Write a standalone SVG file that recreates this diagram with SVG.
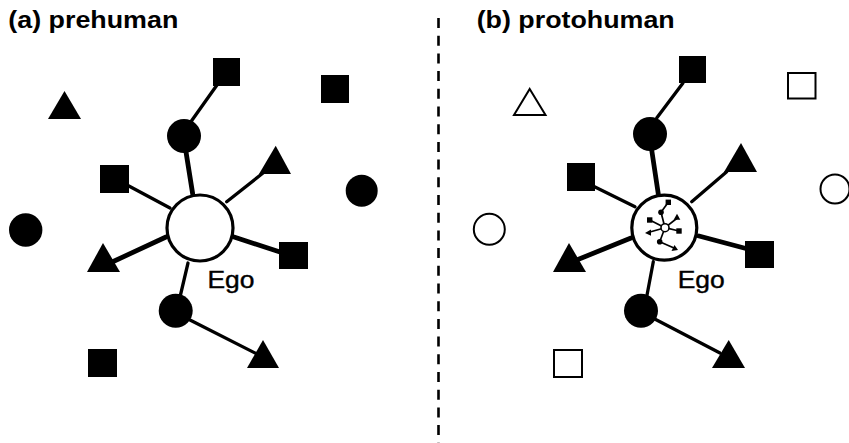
<svg xmlns="http://www.w3.org/2000/svg" width="849" height="443" viewBox="0 0 849 443">
<style>
.title{font-family:"Liberation Sans",Arial,sans-serif;font-weight:bold;font-size:24px;fill:#000}
.lbl{font-family:"Liberation Sans",Arial,sans-serif;font-size:23px;fill:#000;stroke:#000;stroke-width:0.4}
.f{fill:#000}
.o{fill:#fff;stroke:#000;stroke-width:2}
.ego{fill:#fff;stroke:#000;stroke-width:3.2}
.e{stroke:#000;stroke-width:3.3;stroke-linecap:round;fill:none}
.t{stroke-width:4.8}
.m{stroke:#000;stroke-width:1.7;fill:none}
</style>
<rect width="849" height="443" fill="#fff"/>
<text class="title" x="8.3" y="28" textLength="170" lengthAdjust="spacingAndGlyphs">(a) prehuman</text>
<text class="title" x="476.7" y="28" textLength="198" lengthAdjust="spacingAndGlyphs">(b) protohuman</text>
<line x1="438.5" y1="18" x2="438.5" y2="443" stroke="#000" stroke-width="2.6" stroke-dasharray="10 7.7"/>

<g id="connectors">
  <!-- panel a -->
  <line class="e t" x1="192.7" y1="194" x2="185.7" y2="150"/>
  <line class="e" x1="190" y1="123" x2="217" y2="85"/>
  <line class="e" x1="170" y1="208" x2="127" y2="185"/>
  <line class="e" x1="226.7" y1="201.7" x2="263" y2="173"/>
  <line class="e t" x1="166" y1="237" x2="110" y2="263"/>
  <line class="e t" x1="234" y1="237" x2="280" y2="252"/>
  <line class="e" x1="188" y1="263" x2="180" y2="297"/>
  <line class="e" x1="190" y1="320" x2="257" y2="354"/>
  <!-- panel b -->
  <line class="e t" x1="658.3" y1="194" x2="651.7" y2="150"/>
  <line class="e" x1="656.7" y1="118" x2="683" y2="83"/>
  <line class="e" x1="635" y1="206.7" x2="593" y2="186"/>
  <line class="e" x1="691.7" y1="201.7" x2="726.7" y2="171.7"/>
  <line class="e t" x1="631" y1="238" x2="576.7" y2="260"/>
  <line class="e t" x1="699" y1="236" x2="745" y2="248.3"/>
  <line class="e" x1="653.3" y1="261.7" x2="646.7" y2="296.7"/>
  <line class="e" x1="653.3" y1="318.3" x2="720" y2="353"/>
</g>

<!-- panel a nodes -->
<g id="a-ego"><circle class="ego" cx="200" cy="228" r="33"/><text class="lbl" x="207.5" y="288" textLength="47" lengthAdjust="spacingAndGlyphs">Ego</text></g>
<g id="a-sq-top"><rect class="f" x="213" y="58" width="27" height="28"/></g>
<g id="a-sq-topright"><rect class="f" x="321" y="75" width="28" height="28"/></g>
<g id="a-tri-topleft"><polygon class="f" points="64.5,91 81,119 48,119"/></g>
<g id="a-circ-top"><circle class="f" cx="184" cy="136" r="17"/></g>
<g id="a-sq-midleft"><rect class="f" x="100" y="165" width="29" height="28"/></g>
<g id="a-tri-upright"><polygon class="f" points="275.7,145.7 291,174 259,174"/></g>
<g id="a-circ-right"><circle class="f" cx="361.7" cy="190.7" r="16"/></g>
<g id="a-circ-left"><circle class="f" cx="25.7" cy="230" r="16.7"/></g>
<g id="a-tri-lowleft"><polygon class="f" points="103,243 120,272 87,272"/></g>
<g id="a-sq-lowright"><rect class="f" x="279" y="242" width="29" height="27"/></g>
<g id="a-circ-low"><circle class="f" cx="175.7" cy="310.7" r="17"/></g>
<g id="a-tri-lowright"><polygon class="f" points="263,340 279,368 247,368"/></g>
<g id="a-sq-bottomleft"><rect class="f" x="88" y="349" width="29" height="28"/></g>

<!-- panel b nodes -->
<g id="b-ego">
  <circle class="ego" cx="664.3" cy="227.7" r="32.5"/>
  <g id="b-mini">
    <line class="m" x1="665" y1="227.7" x2="661" y2="212.3"/>
    <line class="m" x1="661" y1="212.3" x2="668.3" y2="202.3"/>
    <line class="m" x1="665" y1="227.7" x2="649.7" y2="220"/>
    <line class="m" x1="665" y1="227.7" x2="676.7" y2="218.5"/>
    <line class="m" x1="665" y1="227.7" x2="649" y2="232.3"/>
    <line class="m" x1="665" y1="227.7" x2="679" y2="231"/>
    <line class="m" x1="665" y1="227.7" x2="659.7" y2="241.7"/>
    <line class="m" x1="659.7" y1="241.7" x2="674" y2="248"/>
    <circle cx="665" cy="227.7" r="4" fill="#fff" stroke="#000" stroke-width="1.6"/>
    <circle class="f" cx="661" cy="212.3" r="2.8"/>
    <rect class="f" x="665.6" y="199.6" width="5.4" height="5.4"/>
    <rect class="f" x="647" y="217.3" width="5.4" height="5.4"/>
    <polygon class="f" points="677,213.8 680.3,219.8 673.7,219.8"/>
    <polygon class="f" points="645,233 651,229.6 651,235.8"/>
    <rect class="f" x="676.3" y="228.3" width="5.4" height="5.4"/>
    <circle class="f" cx="659.7" cy="241.7" r="2.8"/>
    <polygon class="f" points="678,250 671.5,251 674.5,245"/>
  </g>
  <text class="lbl" x="677.7" y="288" textLength="47" lengthAdjust="spacingAndGlyphs">Ego</text>
</g>
<g id="b-sq-top"><rect class="f" x="679" y="56" width="27" height="27"/></g>
<g id="b-sq-topright"><rect class="o" x="788" y="73" width="27.5" height="25.5"/></g>
<g id="b-tri-topleft"><polygon class="o" points="529.7,89 545.5,115 514,115"/></g>
<g id="b-circ-top"><circle class="f" cx="650" cy="134" r="17"/></g>
<g id="b-sq-midleft"><rect class="f" x="567" y="163" width="28" height="28"/></g>
<g id="b-tri-upright"><polygon class="f" points="741,143 757,172 724,172"/></g>
<g id="b-circ-right"><circle class="o" cx="835" cy="189" r="14.5"/></g>
<g id="b-circ-left"><circle class="o" cx="489.3" cy="229.3" r="15.5"/></g>
<g id="b-tri-lowleft"><polygon class="f" points="569,243 586,272 553,272"/></g>
<g id="b-sq-lowright"><rect class="f" x="745" y="241" width="29" height="27"/></g>
<g id="b-circ-low"><circle class="f" cx="641" cy="310.7" r="17"/></g>
<g id="b-tri-lowright"><polygon class="f" points="728.7,340 745,368 712,368"/></g>
<g id="b-sq-bottomleft"><rect class="o" x="554" y="350" width="28" height="27"/></g>
</svg>
